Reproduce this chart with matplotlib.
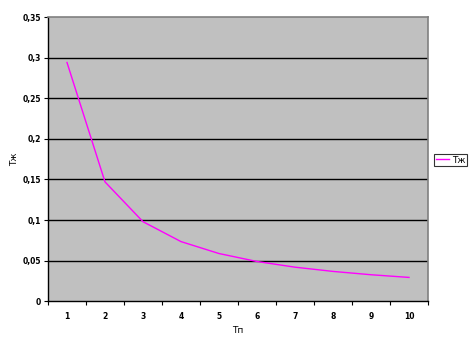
import matplotlib
matplotlib.use("Agg")
import matplotlib.pyplot as plt
from matplotlib.ticker import FixedLocator, FuncFormatter

categories = [1, 2, 3, 4, 5, 6, 7, 8, 9, 10]
tzh = [0.294, 0.147, 0.098, 0.0735, 0.0588, 0.049, 0.042, 0.0368, 0.0327, 0.0294]
y_ticks = [0, 0.05, 0.1, 0.15, 0.2, 0.25, 0.3, 0.35]
y_labels = ["0", "0,05", "0,1", "0,15", "0,2", "0,25", "0,3", "0,35"]

fig = plt.figure(figsize=(4.73, 3.45), dpi=100)
ax = fig.add_axes([48/473, 1-301.3/345, 380/473, 284.3/345])
ax.set_facecolor("#c0c0c0")

ax.plot(categories, tzh, color="#ff00ff", lw=1.0, label="Тж")

ax.set_xlim(0.5, 10.5)
ax.set_ylim(0, 0.35)

ax.set_yticks(y_ticks)
ax.set_yticklabels(y_labels, fontsize=5.5, fontweight="bold")
for y in y_ticks[1:-1]:
    ax.axhline(y, color="black", lw=1.0, zorder=1)

ax.xaxis.set_major_locator(FixedLocator([c - 0.5 for c in categories] + [10.5]))
ax.xaxis.set_major_formatter(FuncFormatter(lambda v, p: ""))
ax.xaxis.set_minor_locator(FixedLocator(categories))
ax.set_xticklabels([str(c) for c in categories], minor=True, fontsize=5.5, fontweight="bold")
ax.tick_params(axis="x", which="major", length=3, direction="out", width=0.8)
ax.tick_params(axis="x", which="minor", length=0, pad=8)
ax.tick_params(axis="y", which="major", length=3, direction="out", width=0.8, pad=2)

for s in ["left", "bottom"]:
    ax.spines[s].set_color("black")
    ax.spines[s].set_linewidth(1.0)
for s in ["top", "right"]:
    ax.spines[s].set_color("#808080")
    ax.spines[s].set_linewidth(1.2)

ax.set_xlabel("Тп", fontsize=6.5)
ax.xaxis.set_label_coords(0.5, -25/284.3)
ax.set_ylabel("Тж", fontsize=6.5)
ax.yaxis.set_label_coords(-29/380, 0.5)

leg = fig.legend(loc="center left", bbox_to_anchor=(434/473, 1-160/345), fontsize=6.5,
                 frameon=True, fancybox=False, edgecolor="black", handlelength=1.5,
                 borderpad=0.2, handletextpad=0.3, borderaxespad=0)
leg.get_frame().set_linewidth(0.8)

fig.savefig("out.png", dpi=100, facecolor="white")
